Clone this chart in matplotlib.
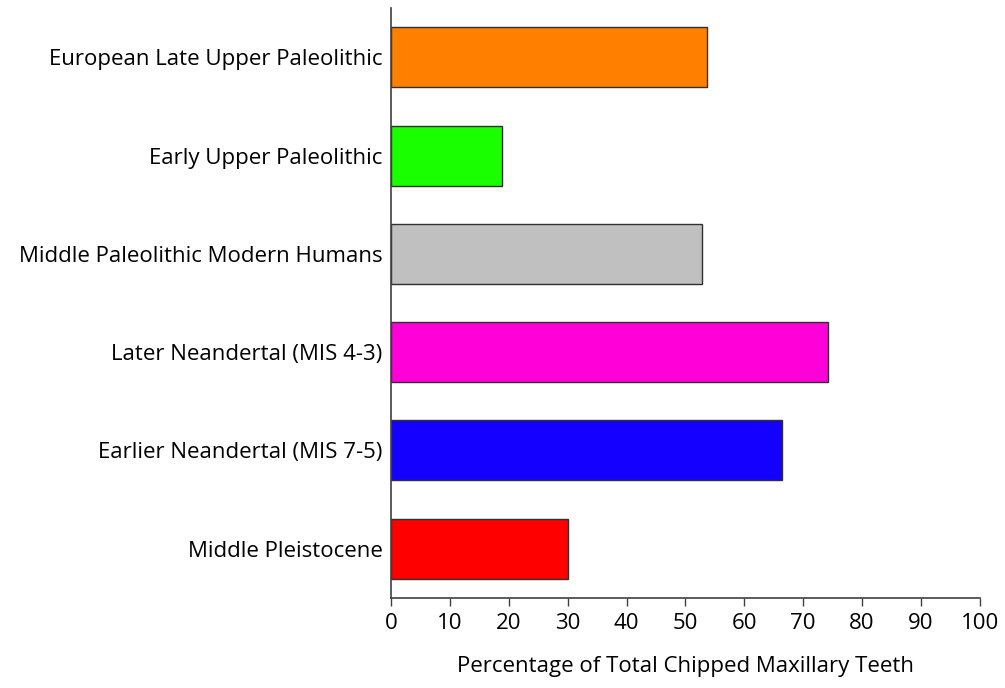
import matplotlib
matplotlib.use("Agg")
import matplotlib.pyplot as plt

# categories listed top to bottom as in the chart
categories = [
    "European Late Upper Paleolithic",
    "Early Upper Paleolithic",
    "Middle Paleolithic Modern Humans",
    "Later Neandertal (MIS 4-3)",
    "Earlier Neandertal (MIS 7-5)",
    "Middle Pleistocene",
]
chipped_pct = [53.7, 18.8, 52.9, 74.2, 66.4, 30.0]
bar_colors = ["#FF8000", "#19FF00", "#C0C0C0", "#FF00D8", "#1400FF", "#FF0000"]
x_ticks = list(range(0, 101, 10))

plt.rcParams["font.family"] = ["Open Sans", "DejaVu Sans"]

fig = plt.figure(figsize=(10.05, 6.88), dpi=100)
ax = fig.add_axes([0.389, 0.131, 0.586, 0.857])

ypos = list(range(len(categories)))[::-1]
ax.barh(ypos, chipped_pct, height=0.61, color=bar_colors,
        edgecolor="#303030", linewidth=1.0)

ax.set_xlim(0, 100)
ax.set_ylim(-0.5, len(categories) - 0.5)
ax.set_xticks(x_ticks)
ax.set_yticks(ypos)
ax.set_yticklabels(categories, fontsize=16)
ax.tick_params(axis="x", labelsize=16, length=6, width=1, color="#404040", direction="out", pad=5)
ax.tick_params(axis="y", length=0, pad=6)

for side in ("top", "right"):
    ax.spines[side].set_visible(False)
for side in ("left", "bottom"):
    ax.spines[side].set_color("#404040")
    ax.spines[side].set_linewidth(1.2)

ax.set_xlabel("Percentage of Total Chipped Maxillary Teeth", fontsize=16, labelpad=16)

fig.savefig("out.png", dpi=100)
